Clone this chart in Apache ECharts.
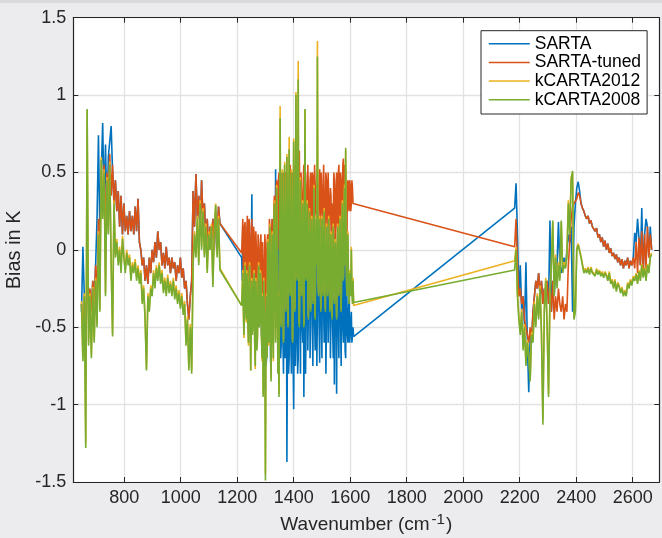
<!DOCTYPE html>
<html><head><meta charset="utf-8">
<script src="https://cdn.jsdelivr.net/npm/echarts@6/dist/echarts.min.js"></script>
<style>html,body{margin:0;padding:0;background:#ececee;}#c{width:662px;height:538px;}</style>
</head><body><div id="c"></div>
<script>
// ---- wavenumber grids (cm-1) for the three spectral bands ----
const wn1 = [649,654,659,664,669,674,679,684,689,694,699,704,709,714,719,724,729,734,739,744,749,754,759,764,769,774,779,784,789,794,799,804,809,814,819,824,829,834,839,844,849,854,859,864,869,874,879,884,889,894,899,904,909,914,919,924,929,934,939,944,949,954,959,964,969,974,979,984,989,994,999,1004,1009,1014,1019,1024,1029,1034,1039,1044,1049,1054,1059,1064,1069,1074,1079,1084,1089,1094,1099,1104,1109,1114,1119,1124,1129,1134,1139];
const wn2 = [1216,1218,1220,1222,1224,1226,1228,1230,1232,1234,1236,1238,1240,1242,1244,1246,1248,1250,1252,1254,1256,1258,1260,1262,1264,1266,1268,1270,1272,1274,1276,1278,1280,1282,1284,1286,1288,1290,1292,1294,1296,1298,1300,1302,1304,1306,1308,1310,1312,1314,1316,1318,1320,1322,1324,1326,1328,1330,1332,1334,1336,1338,1340,1342,1344,1346,1348,1350,1352,1354,1356,1358,1360,1362,1364,1366,1368,1370,1372,1374,1376,1378,1380,1382,1384,1386,1388,1390,1392,1394,1396,1398,1400,1402,1404,1406,1408,1410,1412,1414,1416,1418,1420,1422,1424,1426,1428,1430,1432,1434,1436,1438,1440,1442,1444,1446,1448,1450,1452,1454,1456,1458,1460,1462,1464,1466,1468,1470,1472,1474,1476,1478,1480,1482,1484,1486,1488,1490,1492,1494,1496,1498,1500,1502,1504,1506,1508,1510,1512,1514,1516,1518,1520,1522,1524,1526,1528,1530,1532,1534,1536,1538,1540,1542,1544,1546,1548,1550,1552,1554,1556,1558,1560,1562,1564,1566,1568,1570,1572,1574,1576,1578,1580,1582,1584,1586,1588,1590,1592,1594,1596,1598,1600,1602,1604,1606,1608,1610,1612];
const wn3 = [2182,2187,2192,2197,2202,2207,2212,2217,2222,2227,2232,2237,2242,2247,2252,2257,2262,2267,2272,2277,2282,2287,2292,2297,2302,2307,2312,2317,2322,2327,2332,2337,2342,2347,2352,2357,2362,2367,2372,2377,2382,2387,2392,2397,2402,2407,2412,2417,2422,2427,2432,2437,2442,2447,2452,2457,2462,2467,2472,2477,2482,2487,2492,2497,2502,2507,2512,2517,2522,2527,2532,2537,2542,2547,2552,2557,2562,2567,2572,2577,2582,2587,2592,2597,2602,2607,2612,2617,2622,2627,2632,2637,2642,2647,2652,2657,2662,2667];

// ---- SARTA ----
const sarta1 = [-0.4,0.02,-0.3,-0.6,-0.2,-0.19,-0.3,-0.4,-0.2,-0.35,
 -0.1,0.2,0.74,0.1,0.5,0.82,0.3,0.68,0.2,0.6,
 0.7,0.8,0.5,0.3,0.45,0.25,0.38,0.15,0.35,0.1,
 0.3,0.12,0.22,0.1,0.25,0.12,0.22,0.1,0.28,0.12,
 0.33,0.05,0.0,-0.1,-0.05,-0.2,-0.1,-0.22,-0.05,-0.15,
 0.0,-0.08,0.05,-0.05,0.12,0.0,0.05,-0.1,-0.02,-0.12,
 0.02,-0.1,-0.05,-0.15,-0.05,-0.12,-0.08,-0.2,-0.1,-0.15,
 -0.05,-0.18,-0.12,-0.25,-0.2,-0.35,-0.45,-0.3,-0.2,0.38,
 0.15,0.49,0.2,0.35,0.1,0.45,0.2,0.3,0.05,0.2,
 0.0,0.15,0.05,0.2,0.0,0.25,0.05,0.28,0.17];
const sarta2 = [-0.05,-0.2,0.15,-0.1,-0.15,0.1,0.1,-0.25,-0.2,0.05,0.15,-0.3,-0.3,0.0,0.1,-0.4,-0.35,0.0,0.36,-0.2,
 -0.4,0.05,0.0,-0.45,-0.4,0.0,-0.1,-0.4,-0.5,-0.1,0.0,-0.5,-0.45,0.0,-0.1,-0.55,-0.6,-0.2,-0.3,-0.6,
 -0.9,-0.4,-0.2,-0.75,-0.7,-0.2,0.0,-0.5,-0.6,-0.1,0.1,-0.7,-0.8,-0.3,0.2,-0.5,-0.6,0.1,0.3,-0.4,
 0.52,-0.2,-0.5,0.2,0.3,-0.5,-0.7,0.1,0.4,-0.7,-0.6,0.2,0.3,-0.6,-0.8,0.1,0.3,-0.7,-0.6,0.2,
 -1.37,-0.5,0.3,-0.8,-0.7,0.2,0.35,-0.6,-0.8,0.1,0.3,-0.7,-1.03,-0.3,0.4,-0.75,-0.6,0.2,0.3,-0.8,
 -0.7,0.2,0.4,-0.45,-0.8,0.1,0.2,-0.5,-0.6,0.2,-0.95,-0.4,0.3,-0.8,-0.45,0.1,0.2,-0.65,-0.4,0.2,
 0.3,-0.7,-0.4,0.1,0.2,-0.5,-0.75,0.2,0.3,-0.45,-0.65,0.1,0.2,-0.75,-0.4,0.2,0.3,-0.5,-0.73,0.1,
 0.2,-0.45,-0.7,0.2,0.3,-0.4,-0.6,0.2,0.1,-0.8,-0.45,0.1,0.2,-0.6,-0.4,0.1,0.0,-0.7,-0.45,0.2,
 0.1,-0.5,-0.7,0.0,-0.87,0.1,0.0,-0.45,-0.93,0.0,0.1,-0.5,-0.7,0.1,0.2,-0.45,-0.75,0.0,0.1,-0.5,
 -0.6,0.1,0.3,-0.65,-0.7,0.0,0.0,-0.55,-0.6,-0.4,-0.3,-0.6,-0.55,-0.45,-0.4,-0.6,-0.6,-0.5,
 -0.56];
const sarta3 = [0.27,0.43,0.1,-0.3,-0.1,-0.4,-0.3,-0.5,-0.08,-0.6,
 -0.92,-0.55,-0.6,-0.4,-0.3,-0.2,-0.25,-0.15,-0.3,-0.2,
 -0.35,-0.25,-0.3,-0.2,-0.35,0.19,-0.4,-0.2,-0.3,-0.15,
 -0.1,0.18,-0.1,-0.15,-0.1,-0.05,-0.1,0.0,0.1,0.05,
 0.15,-0.4,0.15,0.3,0.4,0.44,0.38,0.3,0.27,0.25,
 0.22,0.2,0.22,0.17,0.19,0.15,0.16,0.12,0.14,0.08,
 0.1,0.05,0.08,0.02,0.06,0.0,0.04,-0.02,0.01,-0.04,
 -0.02,-0.06,-0.03,-0.08,-0.05,-0.1,-0.06,-0.12,-0.07,-0.1,
 -0.05,-0.12,-0.07,-0.1,-0.05,0.11,0.05,0.2,0.08,-0.1,
 0.27,-0.15,0.1,0.2,0.15,-0.05,0.15,0.0];

// ---- SARTA-tuned ----
const tuned1 = [-0.35,-0.5,-0.3,-0.6,-0.2,-0.35,-0.25,-0.4,-0.2,-0.35,
 -0.1,-0.3,0.2,0.0,0.5,0.3,0.55,0.1,0.5,0.3,
 0.62,0.35,0.55,0.3,0.45,0.25,0.38,0.15,0.35,0.1,
 0.3,0.12,0.22,0.1,0.25,0.12,0.22,0.1,0.28,0.12,
 0.33,0.05,0.0,-0.1,-0.05,-0.2,-0.1,-0.22,-0.05,-0.15,
 0.0,-0.08,0.05,-0.05,0.12,0.0,0.05,-0.1,-0.02,-0.12,
 0.02,-0.1,-0.05,-0.15,-0.05,-0.12,-0.08,-0.2,-0.1,-0.15,
 -0.05,-0.18,-0.12,-0.25,-0.2,-0.35,-0.45,-0.3,-0.2,0.38,
 0.15,0.49,0.2,0.35,0.1,0.45,0.2,0.3,0.05,0.2,
 0.0,0.15,0.05,0.2,0.0,0.25,0.05,0.28,0.17];
const tuned2 = [-0.02,0.1,0.2,-0.2,-0.1,0.15,0.18,-0.25,-0.15,0.1,0.22,-0.1,-0.2,0.2,0.15,-0.3,-0.25,0.05,0.2,-0.15,
 -0.3,0.15,0.1,-0.2,-0.25,0.12,0.0,-0.3,-0.35,0.1,0.05,-0.25,-0.3,0.0,0.1,-0.35,-0.4,0.05,-0.1,-0.45,
 -0.3,0.1,0.0,-0.4,-0.35,0.05,0.1,-0.25,-0.3,0.2,0.15,-0.3,-0.2,0.1,0.2,-0.15,-0.1,0.3,0.35,0.0,
 -0.05,0.4,0.45,0.05,0.0,0.45,0.5,0.15,0.1,0.45,0.5,0.0,0.05,0.4,0.5,0.1,0.1,0.5,0.48,0.05,
 0.0,0.45,0.5,0.15,0.1,0.5,0.55,0.0,0.05,0.45,0.5,0.1,0.15,0.55,0.52,0.2,0.05,0.45,0.5,0.1,
 0.2,0.55,0.64,0.15,0.1,0.5,0.5,0.2,0.0,0.45,0.55,0.15,0.1,0.5,0.5,0.25,0.15,0.55,0.55,0.2,
 0.05,0.45,0.5,0.1,0.2,0.5,0.48,0.15,0.1,0.55,0.55,0.25,0.2,0.5,0.5,0.1,0.1,0.45,0.52,0.2,
 0.15,0.5,0.5,0.25,0.2,0.55,0.55,0.15,0.1,0.5,0.45,0.2,0.15,0.5,0.5,0.1,0.1,0.4,0.35,0.0,
 0.05,0.3,0.15,0.5,0.45,0.1,0.0,0.4,0.5,0.2,0.1,0.5,0.55,0.15,0.2,0.5,0.45,0.15,0.1,0.55,
 0.59,0.3,0.2,0.55,0.5,0.1,-0.05,0.4,0.45,0.3,0.25,0.45,0.42,0.25,0.3,0.45,0.4,0.3,
 0.29];
const tuned3 = [0.02,0.2,-0.1,-0.3,-0.25,-0.35,-0.3,-0.45,-0.5,-0.55,
 -0.6,-0.5,-0.58,-0.4,-0.3,-0.2,-0.25,-0.15,-0.3,-0.2,
 -0.35,-0.25,-0.3,-0.2,-0.35,-0.25,-0.4,-0.2,-0.45,-0.3,
 -0.4,-0.25,-0.35,-0.4,-0.3,-0.45,-0.35,-0.4,-0.1,0.05,
 0.2,0.28,0.3,0.3,0.33,0.37,0.35,0.3,0.27,0.25,
 0.22,0.2,0.22,0.17,0.19,0.15,0.16,0.12,0.14,0.08,
 0.1,0.05,0.08,0.02,0.06,0.0,0.04,-0.02,0.01,-0.04,
 -0.02,-0.06,-0.03,-0.08,-0.05,-0.1,-0.06,-0.12,-0.07,-0.1,
 -0.05,-0.12,-0.07,-0.1,-0.05,-0.12,0.05,-0.15,0.08,-0.1,
 0.12,-0.15,0.1,-0.12,0.15,-0.05,0.1,0.0];

// ---- kCARTA2012 ----
const k12a = [-0.33,-0.7,-0.28,-1.25,0.9,-0.6,-0.28,-0.68,-0.24,-0.58,
 -0.18,-0.48,0.12,-0.38,0.6,0.22,0.52,-0.28,0.47,0.12,
 0.57,-0.08,-0.54,0.32,-0.03,0.07,-0.08,0.02,-0.13,0.09,
 -0.03,-0.13,0.0,-0.08,-0.03,-0.18,-0.08,-0.13,-0.06,-0.18,
 -0.1,-0.2,-0.13,-0.33,-0.23,-0.43,-0.77,-0.28,-0.38,-0.23,
 -0.28,-0.13,-0.23,-0.1,-0.18,-0.08,-0.2,-0.13,-0.26,-0.18,
 -0.28,-0.16,-0.26,-0.2,-0.28,-0.18,-0.3,-0.23,-0.33,-0.26,
 -0.36,-0.28,-0.4,-0.33,-0.6,-0.43,-0.76,-0.48,-0.78,-0.08,
 0.12,-0.03,0.22,-0.08,0.32,0.02,0.27,-0.03,0.17,-0.13,
 0.12,0.02,0.17,-0.22,0.12,0.3,-0.03,0.22,-0.12];
const k12b = [-0.36,-0.23,-0.13,-0.38,-0.57,-0.28,-0.08,-0.33,-0.47,-0.13,-0.18,-0.48,-0.62,-0.23,-0.08,-0.43,-0.78,-0.33,-0.18,-0.53,
 -0.52,-0.23,-0.13,-0.58,-0.77,-0.18,-0.28,-0.63,-0.57,-0.23,-0.08,-0.48,-0.47,-0.13,-0.18,-0.53,-0.72,-0.28,-0.93,-0.18,
 -0.42,-0.58,-1.45,-0.48,-0.28,-0.68,0.07,-0.38,-0.62,0.02,0.17,-0.48,-0.83,-0.08,0.12,-0.53,-0.72,0.22,0.32,-0.28,
 -0.58,-0.18,0.42,-0.08,-0.78,-0.28,-0.93,-0.08,0.93,0.02,-0.48,-0.08,0.52,-0.18,-0.58,0.12,0.57,-0.13,-0.38,0.02,
 0.62,-0.08,-0.48,0.07,0.73,-0.18,-0.28,0.12,0.52,-0.13,-0.58,0.02,0.72,-0.18,-0.38,0.12,1.02,-0.08,-0.18,0.17,
 1.22,-0.08,-0.48,0.02,0.47,-0.18,-0.28,0.12,0.32,-0.13,-0.48,0.02,0.91,-0.08,-0.18,0.12,0.32,-0.18,-0.43,0.07,
 0.27,-0.08,-0.38,0.07,0.22,-0.18,-0.33,0.02,0.42,-0.08,-0.43,0.07,0.22,-0.08,1.35,-0.18,-0.28,0.07,0.22,-0.13,
 -0.38,-0.08,0.22,-0.03,-0.28,0.02,0.27,-0.13,-0.38,-0.03,0.17,-0.18,-0.28,0.02,0.22,-0.08,-0.38,-0.03,0.12,-0.18,
 -0.43,-0.08,0.17,-0.03,-0.33,0.05,0.07,-0.18,-0.43,-0.03,0.17,-0.13,-0.28,0.02,0.22,-0.08,-0.38,-0.03,0.32,-0.08,
 -0.18,0.12,0.42,-0.08,0.64,-0.03,-0.28,-0.08,0.12,-0.23,-0.33,-0.13,-0.13,-0.28,0.02,-0.23,-0.33,-0.18,
 -0.36];
const k12c = [-0.07,0.02,-0.28,-0.43,-0.53,-0.38,-0.63,-0.48,-0.73,-0.58,
 -0.68,-0.83,-0.53,-0.58,-0.33,-0.48,-0.28,-0.43,-0.23,-0.53,
 -1.1,-0.38,-0.18,-0.48,-0.93,-0.28,-0.08,0.18,-0.28,-0.03,
 -0.23,-0.08,-0.18,0.18,-0.13,-0.08,-0.1,-0.03,0.32,0.12,
 0.47,0.5,-0.43,-0.38,0.01,0.04,0.05,-0.04,-0.09,-0.14,
 -0.12,-0.14,-0.11,-0.15,-0.11,-0.14,-0.13,-0.16,-0.12,-0.15,
 -0.13,-0.16,-0.14,-0.17,-0.14,-0.16,-0.19,-0.14,-0.21,-0.19,
 -0.24,-0.19,-0.26,-0.21,-0.23,-0.27,-0.24,-0.29,-0.26,-0.29,
 -0.21,-0.24,-0.19,-0.22,-0.17,-0.19,-0.15,-0.21,-0.13,-0.19,
 -0.09,-0.17,-0.11,-0.19,-0.09,-0.14,-0.04,-0.02];

// ---- kCARTA2008 ----
const k08a = [-0.35,-0.72,-0.3,-1.28,0.91,-0.62,-0.3,-0.7,-0.25,-0.6,
 -0.2,-0.5,0.1,-0.4,0.58,0.2,0.5,-0.3,0.45,0.1,
 0.55,-0.1,-0.56,0.3,-0.05,0.05,-0.1,0.0,-0.15,0.07,
 -0.05,-0.15,-0.02,-0.1,-0.05,-0.2,-0.1,-0.15,-0.08,-0.2,
 -0.12,-0.22,-0.15,-0.35,-0.25,-0.45,-0.78,-0.3,-0.4,-0.25,
 -0.3,-0.15,-0.25,-0.12,-0.2,-0.1,-0.22,-0.15,-0.28,-0.2,
 -0.3,-0.18,-0.28,-0.22,-0.3,-0.2,-0.32,-0.25,-0.35,-0.28,
 -0.38,-0.3,-0.42,-0.35,-0.62,-0.45,-0.78,-0.5,-0.8,-0.1,
 0.1,-0.05,0.2,-0.1,0.3,0.0,0.25,-0.05,0.15,-0.15,
 0.1,0.0,0.15,-0.24,0.1,0.29,-0.05,0.2,-0.13];
const k08b = [-0.36,-0.25,-0.15,-0.4,-0.55,-0.3,-0.1,-0.35,-0.45,-0.15,-0.2,-0.5,-0.6,-0.25,-0.1,-0.45,-0.78,-0.35,-0.2,-0.55,
 -0.5,-0.25,-0.15,-0.6,-0.75,-0.2,-0.3,-0.65,-0.55,-0.25,-0.1,-0.5,-0.45,-0.15,-0.2,-0.55,-0.7,-0.3,-0.95,-0.2,
 -0.4,-0.6,-1.49,-0.5,-0.3,-0.7,0.05,-0.4,-0.6,0.0,0.15,-0.5,-0.85,-0.1,0.1,-0.55,-0.7,0.2,0.3,-0.3,
 -0.6,-0.2,0.4,-0.1,-0.8,-0.3,-0.95,-0.1,0.85,0.0,-0.5,-0.1,0.5,-0.2,-0.6,0.1,0.55,-0.15,-0.4,0.0,
 0.6,-0.1,-0.5,0.05,0.65,-0.2,-0.3,0.1,0.5,-0.15,-0.6,0.0,0.7,-0.2,-0.4,0.1,1.0,-0.1,-0.2,0.15,
 1.1,-0.1,-0.5,0.0,0.45,-0.2,-0.3,0.1,0.3,-0.15,-0.5,0.0,0.91,-0.1,-0.2,0.1,0.3,-0.2,-0.45,0.05,
 0.25,-0.1,-0.4,0.05,0.2,-0.2,-0.35,0.0,0.4,-0.1,-0.45,0.05,0.2,-0.1,1.25,-0.2,-0.3,0.05,0.2,-0.15,
 -0.4,-0.1,0.2,-0.05,-0.3,0.0,0.25,-0.15,-0.4,-0.05,0.15,-0.2,-0.3,0.0,0.2,-0.1,-0.4,-0.05,0.1,-0.2,
 -0.45,-0.1,0.15,-0.05,-0.35,0.0,0.05,-0.2,-0.45,-0.05,0.15,-0.15,-0.3,0.0,0.2,-0.1,-0.4,-0.05,0.3,-0.1,
 -0.2,0.1,0.4,-0.1,0.66,-0.05,-0.3,-0.1,0.1,-0.25,-0.35,-0.15,-0.15,-0.3,0.0,-0.25,-0.35,-0.2,
 -0.34];
const k08c = [-0.13,0.0,-0.3,-0.45,-0.55,-0.4,-0.65,-0.5,-0.75,-0.6,
 -0.7,-0.85,-0.55,-0.6,-0.35,-0.5,-0.3,-0.45,-0.25,-0.55,
 -1.13,-0.4,-0.2,-0.5,-0.95,-0.3,-0.1,0.19,-0.3,-0.05,
 -0.25,-0.1,-0.2,0.19,-0.15,-0.1,-0.12,-0.05,0.3,0.1,
 0.45,0.51,-0.45,-0.4,0.0,0.03,0.04,-0.05,-0.1,-0.15,
 -0.13,-0.15,-0.12,-0.16,-0.12,-0.15,-0.14,-0.17,-0.13,-0.16,
 -0.14,-0.17,-0.15,-0.18,-0.15,-0.17,-0.2,-0.15,-0.22,-0.2,
 -0.25,-0.2,-0.27,-0.22,-0.24,-0.28,-0.25,-0.3,-0.27,-0.3,
 -0.22,-0.25,-0.2,-0.23,-0.18,-0.2,-0.16,-0.22,-0.14,-0.2,
 -0.1,-0.18,-0.12,-0.2,-0.1,-0.15,-0.05,-0.03];

const seriesNames = ['SARTA','SARTA-tuned','kCARTA2012','kCARTA2008'];
const seriesColors = ['#0072BD','#D95319','#EDB120','#77AC30'];
const xTickValues = [800,1000,1200,1400,1600,1800,2000,2200,2400,2600];
const xTitle = 'Wavenumber (cm{sup|-1})';
const yTitle = 'Bias in K';

const wnAll = wn1.concat(wn2, wn3);
function pairs(ys){ return wnAll.map((x,i)=>[x, ys[i]]); }
const seriesValues = [
  sarta1.concat(sarta2, sarta3),
  tuned1.concat(tuned2, tuned3),
  k12a.concat(k12b, k12c),
  k08a.concat(k08b, k08c)
];

const FONT = '"Liberation Sans", Arial, Helvetica, sans-serif';
const INK = '#262626';
const plain = v => String(v);
const axisLine = {show:true, onZero:false, lineStyle:{color:INK, width:1.2}};
const chart = echarts.init(document.getElementById('c'), null, {renderer:'canvas'});
chart.setOption({
  animation:false,
  backgroundColor:'#ececee',
  textStyle:{fontFamily:FONT},
  graphic:[{type:'rect', shape:{x:0,y:0,width:662,height:3}, style:{fill:'#d9dade'}, silent:true}],
  grid:{left:73.3, top:17.7, width:586, height:464.3, show:true, backgroundColor:'#ffffff', borderWidth:0,
        containLabel:false, outerBoundsMode:'none'},
  legend:{
    orient:'vertical', left:481, top:30.7,
    padding:[4,6,5.2,7], itemWidth:41, itemHeight:14, itemGap:0.7,
    backgroundColor:'#ffffff', borderColor:INK, borderWidth:1, borderRadius:0,
    itemStyle:{opacity:0},
    lineStyle:{width:1.5},
    textStyle:{fontSize:17.5, color:'#000', fontFamily:FONT},
    data:seriesNames
  },
  xAxis:[
    {type:'value', min:620, max:2694, position:'bottom',
     axisLine:axisLine,
     axisTick:{show:true, inside:true, length:5, customValues:xTickValues, lineStyle:{color:INK, width:1}},
     axisLabel:{customValues:xTickValues, formatter:plain, fontSize:18, color:INK, margin:7, fontFamily:FONT},
     splitLine:{show:true, lineStyle:{color:'#e2e2e2', width:1.3}},
     name:xTitle, nameLocation:'middle', nameGap:30,
     nameTextStyle:{fontSize:19, color:INK, fontFamily:FONT,
       rich:{sup:{fontSize:15, color:INK, fontFamily:FONT, padding:[0,1,10,2]}}}
    },
    {type:'value', min:620, max:2694, position:'top',
     axisLine:axisLine,
     axisTick:{show:true, inside:true, length:5, customValues:xTickValues, lineStyle:{color:INK, width:1}},
     axisLabel:{show:false}, splitLine:{show:false}}
  ],
  yAxis:[
    {type:'value', min:-1.5, max:1.5, interval:0.5, position:'left',
     axisLine:axisLine,
     axisTick:{show:true, inside:true, length:5, lineStyle:{color:INK, width:1}},
     axisLabel:{formatter:plain, fontSize:18, color:INK, margin:7, fontFamily:FONT},
     splitLine:{show:true, lineStyle:{color:'#e2e2e2', width:1.3}},
     name:yTitle, nameLocation:'middle', nameGap:48,
     nameTextStyle:{fontSize:20, color:INK, fontFamily:FONT}
    },
    {type:'value', min:-1.5, max:1.5, interval:0.5, position:'right',
     axisLine:axisLine,
     axisTick:{show:true, inside:true, length:5, lineStyle:{color:INK, width:1}},
     axisLabel:{show:false}, splitLine:{show:false}}
  ],
  series: seriesNames.map((n,k)=>({
    name:n, type:'line', xAxisIndex:0, yAxisIndex:0,
    data:pairs(seriesValues[k]),
    symbol:'none', showSymbol:false, sampling:null,
    lineStyle:{color:seriesColors[k], width:1.6},
    itemStyle:{color:seriesColors[k]},
    silent:true, clip:true, z:2+k
  }))
});
</script></body></html>
